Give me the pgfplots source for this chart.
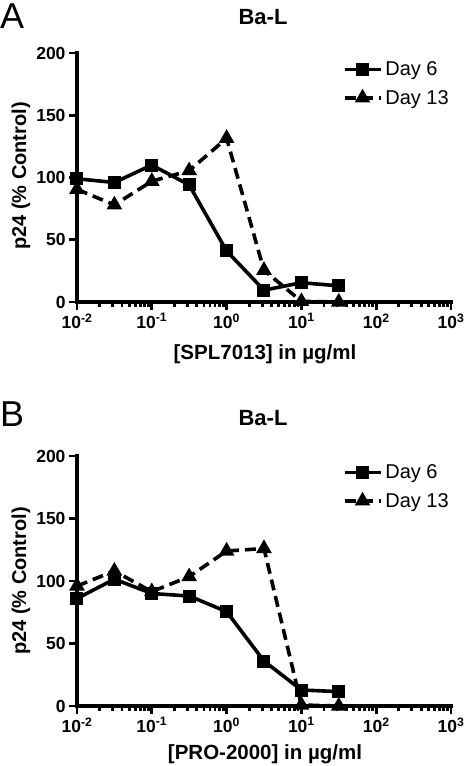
\documentclass[border=0pt]{standalone}
\usepackage{fontspec}
\setmainfont{Liberation Sans}
\usepackage{pgfplots}
\pgfplotsset{compat=1.18}
\pgfplotsset{
  every axis/.append style={
    scale only axis, width=374pt, height=249pt,
    xmin=0.01, xmax=1000, ymin=0, ymax=200,
    axis lines=left, axis line style={-, line width=3.8pt, line cap=rect},
    xtick={0.01,0.1,1,10,100,1000},
    xticklabels={10\textsuperscript{-2},10\textsuperscript{-1},10\textsuperscript{0},10\textsuperscript{1},10\textsuperscript{2},10\textsuperscript{3}},
    ytick={0,50,100,150,200},
    tick align=outside, major tick length=8pt, minor tick length=5pt,
    every tick/.style={black, line width=2.8pt},
    /pgf/number format/assume math mode=true,
    ticklabel style={font=\fontsize{17.5}{17.5}\bfseries\selectfont},
    clip=false,
    legend style={at={(axis description cs:0.71,0.978)}, anchor=north west, draw=none, fill=none,
      inner sep=0pt, row sep=7pt, font=\fontsize{20}{20}\selectfont,
      nodes={inner sep=3pt}},
    legend cell align=left,
    legend image code/.code={\draw[mark repeat=2,mark phase=2] plot coordinates {(0pt,0pt) (18pt,0pt) (36pt,0pt)};},
  },
}
\begin{document}
\begin{tikzpicture}
\path[use as bounding box] (0pt,0pt) rectangle (466pt,-766pt);
% Panel A
\begin{semilogxaxis}[at={(77pt,-302pt)}, anchor=south west]
\addplot[black, line width=3.6pt, mark=square*, mark size=4.7pt, mark options={solid}] coordinates {(0.01,99) (0.0316,96) (0.1,110) (0.316,94) (1,41) (3.16,9.5) (10,15.5) (31.6,13)};
\addlegendentry{Day 6}
\addplot[black, line width=3.6pt, dash pattern=on 11pt off 6pt, mark=triangle*, mark size=5.5pt, mark options={solid}] coordinates {(0.01,90.5) (0.0316,78) (0.1,97) (0.316,105.5) (1,131.5) (3.16,25.5) (10,0.5) (31.6,0)};
\addlegendentry{Day 13}
\end{semilogxaxis}
\node[anchor=base west, inner sep=0pt, font=\fontsize{36}{36}\selectfont] at (0pt,-28pt) {A};
\node[anchor=base, inner sep=0pt, font=\fontsize{22}{22}\bfseries\selectfont] at (263pt,-24pt) {Ba-L};
\node[rotate=90, anchor=base, inner sep=0pt, font=\fontsize{20}{20}\bfseries\selectfont] at (26pt,-176pt) {p24 (\% Control)};
\node[anchor=base, inner sep=0pt, font=\fontsize{20.5}{20.5}\bfseries\selectfont] at (265pt,-359pt) {[SPL7013] in µg/ml};
% Panel B
\begin{semilogxaxis}[at={(77pt,-706pt)}, anchor=south west, height=250pt]
\addplot[black, line width=3.6pt, mark=square*, mark size=4.7pt, mark options={solid}] coordinates {(0.01,86) (0.0316,101.5) (0.1,90) (0.316,88) (1,75.5) (3.16,36) (10,12.8) (31.6,11.5)};
\addlegendentry{Day 6}
\addplot[black, line width=3.6pt, dash pattern=on 11pt off 6pt, mark=triangle*, mark size=5.5pt, mark options={solid}] coordinates {(0.01,96) (0.0316,108) (0.1,91.5) (0.316,103.5) (1,124) (3.16,126) (10,0.8) (31.6,0)};
\addlegendentry{Day 13}
\end{semilogxaxis}
\node[anchor=base west, inner sep=0pt, font=\fontsize{36}{36}\selectfont] at (0pt,-426pt) {B};
\node[anchor=base, inner sep=0pt, font=\fontsize{22}{22}\bfseries\selectfont] at (263pt,-425pt) {Ba-L};
\node[rotate=90, anchor=base, inner sep=0pt, font=\fontsize{20}{20}\bfseries\selectfont] at (26pt,-581pt) {p24 (\% Control)};
\node[anchor=base, inner sep=0pt, font=\fontsize{20.5}{20.5}\bfseries\selectfont] at (265pt,-759pt) {[PRO-2000] in µg/ml};
\end{tikzpicture}
\end{document}
